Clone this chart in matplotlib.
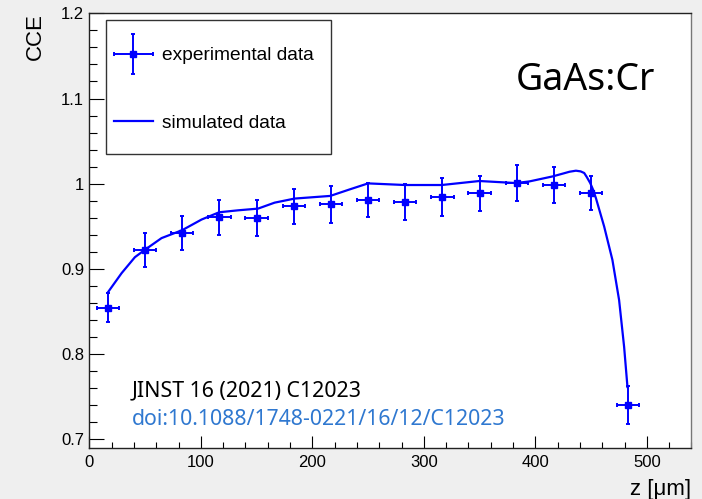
import matplotlib
matplotlib.use("Agg")
import matplotlib.pyplot as plt
from matplotlib.patches import Rectangle
from matplotlib.ticker import MultipleLocator
from matplotlib.container import ErrorbarContainer
from matplotlib.legend_handler import HandlerErrorbar

# ---- data ----
z_exp = [16.7, 50.0, 83.3, 116.7, 150.0, 183.3, 216.7, 250.0, 283.3, 316.7,
         350.0, 383.3, 416.7, 450.0, 483.3]
cce_exp = [0.8545, 0.9224, 0.9424, 0.9604, 0.960, 0.9733, 0.9757, 0.9808,
           0.9784, 0.9843, 0.9886, 1.0008, 0.9984, 0.9886, 0.7404]
cce_err = [0.017, 0.020, 0.020, 0.021, 0.021, 0.021, 0.022, 0.020, 0.021,
           0.022, 0.021, 0.021, 0.021, 0.020, 0.022]
z_err = [10] * 15

z_sim = [16.7, 29.0, 40.9, 49.9, 64.8, 83.3, 100.7, 116.4, 133.4, 151.3,
         166.2, 184.2, 216.1, 233.4, 250.0, 283.1, 316.1, 349.8, 382.6,
         394.6, 415.5, 424.4, 430.7, 436.4, 440.6, 443.8, 446.1, 449.2,
         451.5, 454.3, 461.7, 469.1, 475.1, 479.6, 482.6]
cce_sim = [0.8726, 0.8951, 0.9138, 0.9225, 0.9362, 0.9455, 0.958, 0.9665,
           0.9688, 0.9708, 0.9778, 0.9826, 0.9857, 0.9933, 1.0004, 0.9985,
           0.9985, 1.0032, 1.0008, 1.0027, 1.0086, 1.0118, 1.0141, 1.0153,
           1.0145, 1.0126, 1.0079, 1.0008, 0.9938, 0.9832, 0.9498, 0.9106,
           0.8635, 0.8086, 0.7615]

legend_labels = ["experimental data", "simulated data"]
x_title = "z [\u03bcm]"
y_title = "CCE"
material = "GaAs:Cr"
ref_line1 = "JINST 16 (2021) C12023"
ref_line2 = "doi:10.1088/1748-0221/16/12/C12023"

# ---- figure ----
fig = plt.figure(figsize=(7.02, 4.99), dpi=100, facecolor="#efefef")
ax = fig.add_axes([0.1272, 0.1016, 0.8578, 0.8717])
ax.set_facecolor("white")

blue = "#0000ff"
eb = ax.errorbar(z_exp, cce_exp, yerr=cce_err, xerr=z_err, fmt="s",
                 color=blue, ms=5, elinewidth=1.4, capsize=1.6, capthick=1.4,
                 label=legend_labels[0], zorder=3)
ln, = ax.plot(z_sim, cce_sim, color=blue, lw=1.6, label=legend_labels[1],
              zorder=2, solid_joinstyle="round")

ax.set_xlim(0, 540)
ax.set_ylim(0.6895, 1.2)
ax.xaxis.set_major_locator(MultipleLocator(100))
ax.xaxis.set_minor_locator(MultipleLocator(20))
ax.yaxis.set_major_locator(MultipleLocator(0.1))
ax.yaxis.set_minor_locator(MultipleLocator(0.02))
ax.yaxis.set_major_formatter(plt.FuncFormatter(
    lambda v, p: "1" if abs(v - 1) < 1e-9 else f"{v:.1f}"))

tick_font = "Liberation Sans"
ax.tick_params(axis="x", which="major", direction="in", length=8.6, width=0.8,
               pad=5, labelsize=12, top=False)
ax.tick_params(axis="x", which="minor", direction="in", length=4.3, width=0.8,
               top=False)
ax.tick_params(axis="y", which="major", direction="in", length=10.8, width=0.8,
               pad=3.8, labelsize=12, right=False)
ax.tick_params(axis="y", which="minor", direction="in", length=5.6, width=0.8,
               right=False)
for lab in ax.get_xticklabels() + ax.get_yticklabels():
    lab.set_fontfamily(tick_font)
for s in ax.spines.values():
    s.set_linewidth(1.0)
    s.set_color("#222222")
ax.spines["right"].set_color("#777777")

ax.set_ylabel(y_title, fontsize=16, family=tick_font, loc="top")
ax.yaxis.set_label_coords(-0.072, 1.0)
ax.set_xlabel(x_title, fontsize=16, family=tick_font, loc="right")
ax.xaxis.set_label_coords(1.0, -0.071)

# legend frame (ROOT-style box) and entries
ax.add_patch(Rectangle((0.0277, 0.6766), 0.3736, 0.308, transform=ax.transAxes,
                       facecolor="white", edgecolor="#333333", lw=1.0,
                       zorder=4))
leg = ax.legend(handles=[eb, ln], labels=legend_labels, loc="upper left",
                bbox_to_anchor=(0.041, 0.9225),
                prop={"family": tick_font, "size": 13.8},
                frameon=False, borderpad=0.0, handlelength=2.03,
                handletextpad=0.47, labelspacing=2.61, borderaxespad=0.0,
                handler_map={ErrorbarContainer: HandlerErrorbar(xerr_size=1.0, yerr_size=1.05)})
leg.set_zorder(5)

ax.text(0.7085, 0.8237, material, transform=ax.transAxes, fontsize=27,
        family="Noto Sans", color="black", ha="left", va="baseline")
ax.text(0.0702, 0.1185, ref_line1, transform=ax.transAxes, fontsize=15.4,
        family="Noto Sans", color="black", ha="left", va="baseline")
ax.text(0.0702, 0.0533, ref_line2, transform=ax.transAxes, fontsize=15.3,
        family="Noto Sans", color="#2f78d0", ha="left", va="baseline")

fig.savefig("out.png", dpi=100, facecolor=fig.get_facecolor())
